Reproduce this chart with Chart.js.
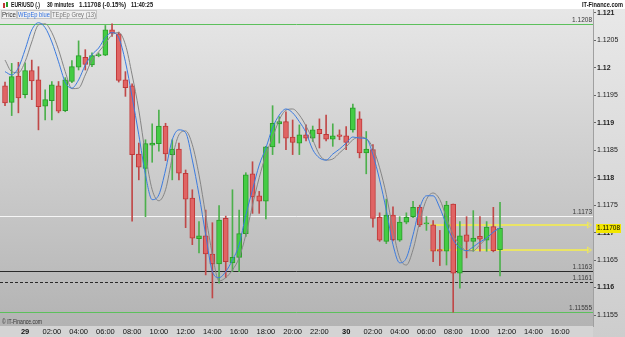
<!DOCTYPE html>
<html>
<head>
<meta charset="utf-8">
<script src="https://cdn.jsdelivr.net/npm/chart.js@4.4.0/dist/chart.umd.min.js"></script>
<style>
  html, body { margin: 0; padding: 0; background: #fff; }
  #wrap { width: 625px; height: 337px; }
</style>
</head>
<body>
<div id="wrap"><canvas id="chart" width="625" height="337"></canvas></div>
<script>
// EUR/USD 30 min, 28.22:30 -> 30.11:30 (75 candles)
const opens  = [1.11967,1.11937,1.11985,1.11951,1.11995,1.11978,1.11930,1.11940,1.11967,1.11922,
                1.11975,1.12001,1.12019,1.12005,1.12022,1.12023,1.12069,1.12062,1.11978,1.11967,
                1.11843,1.11817,1.11859,1.11862,1.11894,1.11842,1.11852,1.11808,1.11763,1.11689,
                1.11694,1.11661,1.11643,1.11726,1.11645,1.11655,1.11698,1.11807,1.11767,1.11757,
                1.11856,1.11898,1.11902,1.11874,1.11863,1.11878,1.11872,1.11888,1.11879,1.11870,
                1.11878,1.11876,1.11887,1.11907,1.11845,1.11851,1.11728,1.11684,1.11732,1.11686,
                1.11719,1.11729,1.11746,1.11716,1.11714,1.11669,1.11666,1.11752,1.11626,1.11696,
                1.11684,1.11693,1.11686,1.11711,1.11669]
const highs  = [1.11974,1.12008,1.12010,1.12009,1.12014,1.12002,1.11960,1.11975,1.11975,1.11982,
                1.12013,1.12049,1.12033,1.12027,1.12027,1.12077,1.12080,1.12065,1.11993,1.11971,
                1.11863,1.11869,1.11898,1.11923,1.11899,1.11869,1.11863,1.11814,1.11778,1.11720,
                1.11741,1.11718,1.11749,1.11730,1.11778,1.11741,1.11809,1.11829,1.11775,1.11857,
                1.11931,1.11911,1.11920,1.11905,1.11896,1.11896,1.11894,1.11907,1.11914,1.11898,
                1.11887,1.11893,1.11934,1.11920,1.11884,1.11860,1.11736,1.11761,1.11747,1.11729,
                1.11736,1.11757,1.11750,1.11729,1.11722,1.11704,1.11757,1.11752,1.11720,1.11729,
                1.11740,1.11729,1.11720,1.11746,1.11755]
const lows   = [1.11931,1.11913,1.11918,1.11945,1.11942,1.11887,1.11905,1.11905,1.11918,1.11920,
                1.11973,1.11996,1.11996,1.12002,1.12020,1.12022,1.12057,1.11974,1.11948,1.11721,
                1.11796,1.11729,1.11828,1.11848,1.11831,1.11796,1.11796,1.11709,1.11678,1.11663,
                1.11623,1.11581,1.11608,1.11618,1.11629,1.11629,1.11693,1.11735,1.11735,1.11725,
                1.11842,1.11863,1.11851,1.11842,1.11842,1.11867,1.11866,1.11854,1.11867,1.11857,
                1.11869,1.11851,1.11883,1.11836,1.11807,1.11710,1.11684,1.11680,1.11685,1.11684,
                1.11716,1.11727,1.11711,1.11704,1.11647,1.11640,1.11641,1.11555,1.11599,1.11654,
                1.11666,1.11666,1.11666,1.11665,1.11621]
const closes = [1.11936,1.11984,1.11945,1.11995,1.11976,1.11929,1.11942,1.11969,1.11921,1.11978,
                1.12002,1.12022,1.12006,1.12022,1.12024,1.12069,1.12063,1.11977,1.11964,1.11842,
                1.11819,1.11862,1.11863,1.11894,1.11843,1.11852,1.11808,1.11761,1.11690,1.11694,
                1.11661,1.11643,1.11723,1.11647,1.11655,1.11698,1.11805,1.11765,1.11757,1.11856,
                1.11899,1.11902,1.11872,1.11864,1.11878,1.11872,1.11887,1.11880,1.11870,1.11876,
                1.11875,1.11864,1.11927,1.11845,1.11852,1.11726,1.11686,1.11732,1.11687,1.11719,
                1.11728,1.11746,1.11714,1.11717,1.11666,1.11666,1.11750,1.11626,1.11694,1.11684,
                1.11690,1.11688,1.11710,1.11667,1.11708]

// WEpEp (blue) i TEpEp (grey, 13)
const wepep  = [1.11993,1.11987,1.12000,1.12033,1.12069,1.12082,1.12073,1.12047,1.12011,1.11974,
                1.11963,1.11978,1.12005,1.12024,1.12036,1.12055,1.12064,1.12055,1.12011,1.11947,
                1.11878,1.11805,1.11760,1.11769,1.11814,1.11869,1.11887,1.11882,1.11832,1.11769,
                1.11696,1.11629,1.11618,1.11629,1.11650,1.11678,1.11732,1.11778,1.11823,1.11854,
                1.11891,1.11914,1.11925,1.11918,1.11902,1.11882,1.11851,1.11836,1.11832,1.11843,
                1.11852,1.11863,1.11874,1.11872,1.11871,1.11842,1.11796,1.11741,1.11678,1.11645,
                1.11654,1.11696,1.11745,1.11767,1.11767,1.11745,1.11714,1.11687,1.11672,1.11667,
                1.11674,1.11683,1.11690,1.11701,1.11709]
const tepep  = [1.12014,1.11993,1.11991,1.12011,1.12047,1.12078,1.12080,1.12064,1.12033,1.11993,
                1.11962,1.11963,1.11987,1.12014,1.12029,1.12044,1.12060,1.12064,1.12042,1.11987,
                1.11923,1.11842,1.11778,1.11758,1.11778,1.11836,1.11878,1.11885,1.11860,1.11805,
                1.11732,1.11660,1.11612,1.11618,1.11632,1.11654,1.11696,1.11750,1.11800,1.11842,
                1.11873,1.11905,1.11923,1.11925,1.11914,1.11894,1.11869,1.11842,1.11832,1.11834,
                1.11845,1.11856,1.11869,1.11874,1.11871,1.11854,1.11818,1.11769,1.11705,1.11654,
                1.11641,1.11669,1.11720,1.11760,1.11772,1.11760,1.11727,1.11696,1.11678,1.11667,
                1.11667,1.11678,1.11690,1.11701,1.11709]

const xTickIdx    = [3,7,11,15,19,23,27,31,35,39,43,47,51,55,59,63,67,71,75,79,83]
const xTickLabels = ['29','02:00','04:00','06:00','08:00','10:00','12:00','14:00','16:00','18:00','20:00','22:00',
                     '30','02:00','04:00','06:00','08:00','10:00','12:00','14:00','16:00']

const levelPrices = [1.1208, 1.1173, 1.1163, 1.1161, 1.11555]
const levelLabels = ['1.1208', '1.1173', '1.1163', '1.1161', '1.11555']
const levelColors = ['#5cc05c', '#f6f6f6', '#2a2a2a', '#2a2a2a', '#5cc05c']
const levelDashed = [false, false, false, true, false]

const rangePrices = [1.11714, 1.11668]
const rangeFrom   = 63.5
const lastPrice   = 1.11708

const NARROW = '"Liberation Sans Narrow", "Liberation Sans", Arial, sans-serif'
const SANS   = '"Liberation Sans", Arial, sans-serif'

const up       = opens.map((o, i) => closes[i] >= o)
const bodyFill = up.map(u => u ? '#44cc44' : '#e06464')
const bodyLine = up.map(u => u ? '#2a9d2a' : '#c03838')
const wickCol  = up.map(u => u ? '#4cb04c' : '#c04848')

const bgPlugin = {
  id: 'bg',
  beforeDraw (chart) {
    const { ctx, chartArea: a, width, height } = chart
    ctx.save()
    ctx.fillStyle = '#d4d4d4'
    ctx.fillRect(0, 0, width, height)
    let g = ctx.createLinearGradient(0, a.top, 0, a.bottom)
    g.addColorStop(0, '#e7e7e7')
    g.addColorStop(1, '#b3b3b3')
    ctx.fillStyle = g
    ctx.fillRect(a.left, a.top, a.right - a.left, a.bottom - a.top)
    g = ctx.createLinearGradient(0, a.top, 0, height)
    g.addColorStop(0, '#e8e8e8')
    g.addColorStop(1, '#cdcdcd')
    ctx.fillStyle = g
    ctx.fillRect(a.right, a.top, width - a.right, height - a.top)
    ctx.fillStyle = '#fff'
    ctx.fillRect(0, 0, width, a.top)
    ctx.restore()
  }
}

const levelPlugin = {
  id: 'levels',
  beforeDatasetsDraw (chart) {
    const { ctx, chartArea: a, scales: { x, y } } = chart
    ctx.save()
    levelPrices.forEach((p, k) => {
      const py = Math.round(y.getPixelForValue(p)) + 0.5
      ctx.strokeStyle = levelColors[k]
      ctx.lineWidth = 1
      ctx.setLineDash(levelDashed[k] ? [3, 2] : [])
      ctx.beginPath(); ctx.moveTo(a.left, py); ctx.lineTo(a.right, py); ctx.stroke()
      ctx.setLineDash([])
      ctx.fillStyle = '#3a3a3a'
      ctx.font = '6.5px ' + NARROW
      ctx.textAlign = 'right'
      ctx.textBaseline = 'bottom'
      ctx.fillText(levelLabels[k], a.right - 1, py - 1)
    })
    const x0 = x.getPixelForValue(rangeFrom)
    rangePrices.forEach(p => {
      const py = Math.round(y.getPixelForValue(p))
      ctx.strokeStyle = 'rgba(236,230,96,0.95)'
      ctx.lineWidth = 2
      ctx.beginPath(); ctx.moveTo(x0, py); ctx.lineTo(a.right - 4, py); ctx.stroke()
      ctx.lineWidth = 1
      ctx.beginPath()
      ctx.moveTo(a.right - 5.5, py - 3); ctx.lineTo(a.right - 1.5, py); ctx.lineTo(a.right - 5.5, py + 3)
      ctx.closePath(); ctx.stroke()
    })
    ctx.restore()
  }
}

function txt (ctx, s, x, y, w, font, color) {
  ctx.font = font
  ctx.fillStyle = color
  ctx.textAlign = 'left'
  ctx.textBaseline = 'middle'
  ctx.fillText(s, x, y, w)
}

const overlayPlugin = {
  id: 'overlay',
  afterDraw (chart) {
    const { ctx, chartArea: a, scales: { y } } = chart
    ctx.save()
    // ikona
    ctx.fillStyle = '#c03838'; ctx.fillRect(3, 3, 2, 5)
    ctx.fillStyle = '#2a9d2a'; ctx.fillRect(6, 2, 2, 5)
    // nagłówek
    txt(ctx, 'EUR/USD (.)', 11, 5, 29, 'bold 8px ' + SANS, '#111')
    txt(ctx, '30 minutes', 47, 5, 27, 'bold 8px ' + SANS, '#111')
    txt(ctx, '1.11708 (-0.15%)', 79, 5, 47, 'bold 8px ' + SANS, '#111')
    txt(ctx, '11:40:25', 131, 5, 22, 'bold 8px ' + SANS, '#111')
    txt(ctx, 'IT-Finance.com', 582, 5, 41, 'bold 8px ' + SANS, '#111')
    // legenda
    const boxes = [[1, 16, 'Price', '#333'], [17, 34, 'WEpEp blue', '#2f6fe0'], [51, 46, 'TEpEp Grey (13)', '#777']]
    boxes.forEach(([bx, bw, s, c]) => {
      ctx.fillStyle = 'rgba(240,240,240,0.85)'
      ctx.fillRect(bx, 10, bw, 9)
      ctx.strokeStyle = '#c4c4c4'
      ctx.lineWidth = 1
      ctx.strokeRect(bx + 0.5, 10.5, bw - 1, 8)
      txt(ctx, s, bx + 1, 15, bw - 2, '8px ' + SANS, c)
    })
    // stopka
    txt(ctx, '\u00a9 IT-Finance.com', 2, 322.5, 40, '6.5px ' + SANS, '#333')
    // etykieta ceny
    const py = Math.round(y.getPixelForValue(lastPrice))
    ctx.fillStyle = '#f2e600'
    ctx.fillRect(a.right + 3, py - 4, 25, 9)
    txt(ctx, lastPrice.toFixed(5), a.right + 4, py + 0.5, 23, '7px ' + NARROW, '#000')
    ctx.restore()
  }
}

const isRound = v => Math.abs(v * 1000 - Math.round(v * 1000)) < 1e-6

new Chart(document.getElementById('chart'), {
  type: 'bar',
  data: {
    datasets: [
      {
        type: 'line',
        data: wepep.map((v, i) => ({ x: i, y: v })),
        borderColor: '#3b7be0',
        borderWidth: 1,
        pointRadius: 0,
        cubicInterpolationMode: 'monotone',
        order: 0
      },
      {
        type: 'line',
        data: tepep.map((v, i) => ({ x: i, y: v })),
        borderColor: '#858585',
        borderWidth: 1,
        pointRadius: 0,
        cubicInterpolationMode: 'monotone',
        order: 1
      },
      {
        data: opens.map((o, i) => ({ x: i, y: [o, closes[i]] })),
        backgroundColor: bodyFill,
        borderColor: bodyLine,
        borderWidth: 1,
        borderSkipped: false,
        barThickness: 5,
        minBarLength: 1,
        grouped: false,
        order: 2
      },
      {
        data: lows.map((l, i) => ({ x: i, y: [l, highs[i]] })),
        backgroundColor: wickCol,
        borderWidth: 0,
        barThickness: 1,
        grouped: false,
        order: 3
      }
    ]
  },
  options: {
    responsive: false,
    animation: false,
    devicePixelRatio: 1,
    layout: { padding: { top: 9, left: 0, right: 0, bottom: 0 } },
    plugins: { legend: { display: false }, tooltip: { enabled: false } },
    scales: {
      x: {
        type: 'linear',
        min: -0.75,
        max: 87.9,
        offset: false,
        grid: { display: false, drawTicks: false },
        border: { display: false },
        afterBuildTicks: s => { s.ticks = xTickIdx.map(v => ({ value: v })) },
        afterFit: s => { s.height = 11 },
        ticks: {
          autoSkip: false,
          maxRotation: 0,
          padding: 1,
          color: '#111',
          font: c => ({ family: NARROW, size: 7.5, weight: (xTickLabels[c.index] || '').length === 2 ? 'bold' : 'normal' }),
          callback: (v, i) => xTickLabels[i]
        }
      },
      y: {
        position: 'right',
        min: 1.11530,
        max: 1.12107,
        grid: { drawOnChartArea: false, tickLength: 3, color: '#666' },
        border: { color: '#a0a0a0' },
        afterFit: s => { s.width = 32 },
        ticks: {
          stepSize: 0.0005,
          includeBounds: false,
          maxTicksLimit: 20,
          padding: 1,
          color: '#222',
          font: c => ({ family: NARROW, size: 7, weight: c.tick && isRound(c.tick.value) ? 'bold' : 'normal' }),
          callback: v => (+v).toFixed(4).replace(/0+$/, '')
        }
      }
    }
  },
  plugins: [bgPlugin, levelPlugin, overlayPlugin]
})
</script>
</body>
</html>
